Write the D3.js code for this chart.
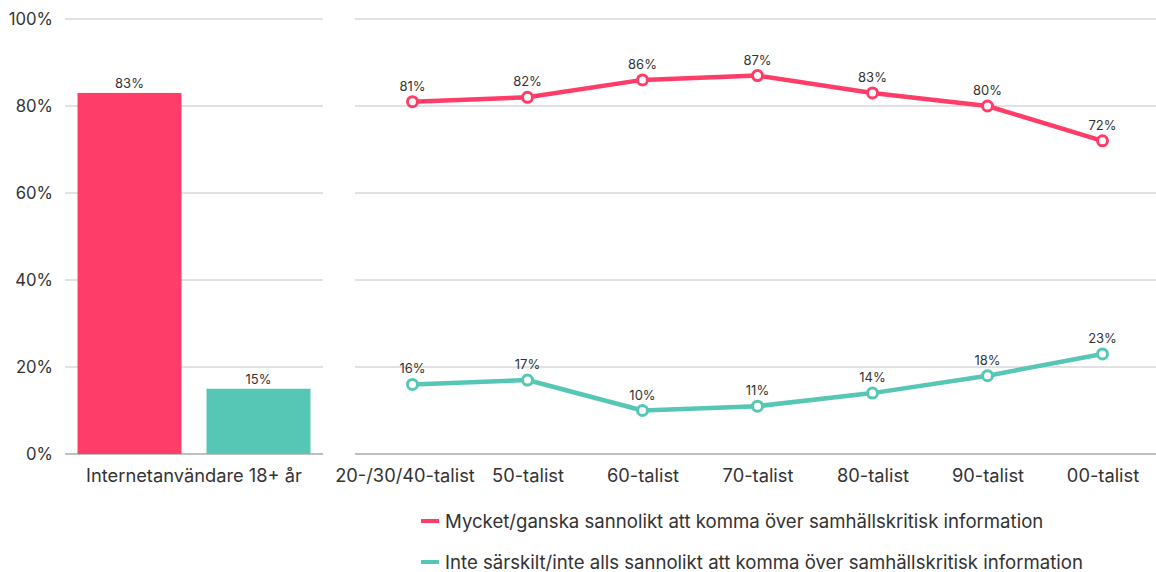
<!DOCTYPE html>
<html><head><meta charset="utf-8">
<script src="https://cdn.jsdelivr.net/npm/d3@7"></script>
<style>body{margin:0;background:#fff;font-family:"Inter","Noto Sans",sans-serif;}</style>
</head><body>
<svg id="c" width="1156" height="572"></svg>
<script>
const barCategory = ["Internetanvändare 18+ år"];
const barSeries = ["Mycket/ganska sannolikt att komma över samhällskritisk information","Inte särskilt/inte alls sannolikt att komma över samhällskritisk information"];
const barValues = [83, 15];
const lineCategories = ["20-/30/40-talist","50-talist","60-talist","70-talist","80-talist","90-talist","00-talist"];
const likelyValues = [81, 82, 86, 87, 83, 80, 72];
const unlikelyValues = [16, 17, 10, 11, 14, 18, 23];
const yTicks = [0, 20, 40, 60, 80, 100];
const colors = ["#ff3d68", "#56c7b4"];

const svg = d3.select("#c");
const y = d3.scaleLinear().domain([0,100]).range([454,19]);
const font = '"Inter","Noto Sans",sans-serif';

// Left panel
const xl = d3.scaleBand().domain(barSeries).range([65,323]).paddingInner(0.194).paddingOuter(0.097);
const gl = svg.append("g");
yTicks.forEach(t=>{
  gl.append("line").attr("x1",65).attr("x2",323).attr("y1",y(t)).attr("y2",y(t))
    .attr("stroke", t===0?"#aaaaaa":"#c4c4c4").attr("stroke-width", t===0?1.5:1);
});
const yAxis = d3.axisLeft(y).tickValues(yTicks).tickFormat(d=>d+"%").tickSize(0).tickPadding(0);
const ya = svg.append("g").attr("transform","translate(53,0)").call(yAxis);
ya.select(".domain").remove();
ya.selectAll("text").attr("font-size",16.7).attr("font-family",font).attr("fill","#333");

gl.selectAll("rect").data(barValues).join("rect")
  .attr("x",(d,i)=>xl(barSeries[i])).attr("width",xl.bandwidth())
  .attr("y",d=>y(d)).attr("height",d=>y(0)-y(d)).attr("fill",(d,i)=>colors[i]);
gl.selectAll("text.v").data(barValues).join("text").attr("class","v")
  .attr("x",(d,i)=>xl(barSeries[i])+xl.bandwidth()/2).attr("y",d=>y(d)-5)
  .attr("text-anchor","middle").attr("font-size",13).attr("font-family",font).attr("fill","#333")
  .text(d=>d+"%");
gl.append("text").attr("x",194).attr("y",469).attr("dy","0.71em").attr("text-anchor","middle")
  .attr("font-size",18.3).attr("font-family",font).attr("fill","#333").text(barCategory[0]);

// Right panel
const xr = d3.scalePoint().domain(lineCategories).range([355,1160]).padding(0.5);
const gr = svg.append("g");
yTicks.forEach(t=>{
  gr.append("line").attr("x1",355).attr("x2",1156).attr("y1",y(t)).attr("y2",y(t))
    .attr("stroke", t===0?"#aaaaaa":"#c4c4c4").attr("stroke-width", t===0?1.5:1);
});
const xAxis = d3.axisBottom(xr).tickSize(0).tickPadding(0);
const xa = svg.append("g").attr("transform","translate(0,469)").call(xAxis);
xa.select(".domain").remove();
xa.selectAll("text").attr("font-size",18.3).attr("font-family",font).attr("fill","#333").attr("dy","0.71em")
  .attr("dx",(d,i)=>i===0?-8:0);

const line = d3.line().x((d,i)=>xr(lineCategories[i])).y(d=>y(d));
[likelyValues, unlikelyValues].forEach((vals,k)=>{
  gr.append("path").datum(vals).attr("d",line).attr("fill","none")
    .attr("stroke",colors[k]).attr("stroke-width",4.5).attr("stroke-linejoin","round");
  gr.selectAll("circle.s"+k).data(vals).join("circle").attr("class","s"+k)
    .attr("cx",(d,i)=>xr(lineCategories[i])).attr("cy",d=>y(d)).attr("r",5)
    .attr("fill","#fff").attr("stroke",colors[k]).attr("stroke-width",3);
  gr.selectAll("text.l"+k).data(vals).join("text").attr("class","l"+k)
    .attr("x",(d,i)=>xr(lineCategories[i])).attr("y",d=>y(d)-11)
    .attr("text-anchor","middle").attr("font-size",13).attr("font-family",font).attr("fill","#333")
    .text(d=>d+"%");
});

// Legend
const lg = svg.append("g");
barSeries.forEach((s,i)=>{
  const yy = 521 + i*41;
  lg.append("line").attr("x1",421).attr("x2",439).attr("y1",yy).attr("y2",yy)
    .attr("stroke",colors[i]).attr("stroke-width",4);
  lg.append("text").attr("x",445).attr("y",yy).attr("dy","0.35em").attr("font-size",18.6)
    .attr("font-family",font).attr("fill","#333").text(s);
});
</script>
</body></html>
